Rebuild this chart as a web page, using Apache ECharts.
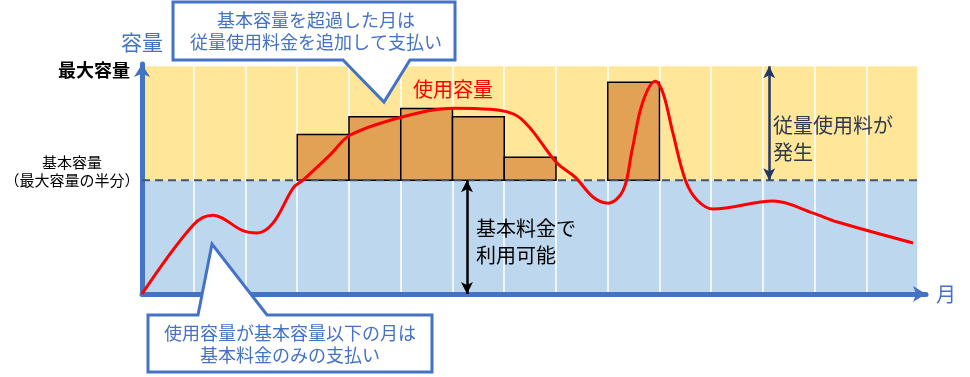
<!DOCTYPE html>
<html><head><meta charset="utf-8">
<script src="https://cdn.jsdelivr.net/npm/echarts@6/dist/echarts.min.js"></script>
<style>html,body{margin:0;padding:0;background:#fff}#c{width:970px;height:377px}</style>
</head><body><div id="c"></div>
<script>
// ---- data ----
var basicCapacity = 50;
var maxCapacity = 100;
var months = 15;
// bars: [month index, usage top] for months exceeding basic capacity
var overMonths = [3, 4, 5, 6, 7, 9];
var overValues = [70, 77.8, 81.5, 77.8, 60, 93];
// usage curve
var usageX = [0, 0.99, 1.37, 1.95, 2.22, 2.53, 2.92, 3.11, 3.63, 4.02, 5.01, 6.01, 6.73, 7.31, 8.02, 8.37, 8.72, 9.01, 9.30, 9.47, 9.67, 9.92, 10.07, 10.26, 10.5, 10.73, 11.04, 12.2, 12.97, 13.44, 14.9];
var usageY = [0, 30.3, 34.6, 27.8, 26.8, 31.1, 46.5, 50, 61, 69.7, 77.6, 81.6, 81.1, 77.2, 57.5, 51.3, 42.5, 39.9, 45.6, 63.2, 83.8, 93.4, 88.2, 70.6, 50, 41.2, 37.3, 40.8, 35.5, 31.6, 22.4];
var yTickValues = [50, 100];
var yTickLabels = ['{a|基本容量}\n{b|（最大容量の半分）}\n{c| }', '{d|最大容量}'];
var overArrowX = 12.12;
var basicArrowX = 6.28;

var FONT = '"Noto Sans CJK JP", "Noto Sans CJK SC", sans-serif';
var chart = echarts.init(document.getElementById('c'));

var barData = overMonths.map(function (m, i) { return [m, overValues[i]]; });
var lineData = usageX.map(function (x, i) { return [x, usageY[i]]; });

var option = {
  animation: false,
  textStyle: { fontFamily: FONT },
  grid: { left: 142, right: 44, top: 64, bottom: 83 },
  xAxis: {
    type: 'value', min: 0, max: 15.15, interval: 1, z: 2,
    name: '月', nameLocation: 'end', nameGap: 10,
    nameTextStyle: { color: '#4472C4', fontSize: 20, fontFamily: FONT, align: 'left', verticalAlign: 'middle', padding: [8, 0, 0, 0] },
    axisLine: { show: true, symbol: ['none', 'arrow'], symbolSize: [12, 13], lineStyle: { color: '#4472C4', width: 5 } },
    axisTick: { show: false },
    axisLabel: { show: false },
    splitLine: { show: true, lineStyle: { color: '#ffffff', width: 1.5 } }
  },
  yAxis: {
    type: 'value', min: 0, max: 101, interval: 50, z: 3,
    name: '容量', nameLocation: 'end', nameGap: 22,
    nameTextStyle: { color: '#4472C4', fontSize: 21, fontFamily: FONT, align: 'center', verticalAlign: 'middle' },
    axisLine: { show: true, symbol: ['none', 'arrow'], symbolSize: [12, 13], lineStyle: { color: '#4472C4', width: 5 } },
    axisTick: { show: false },
    splitLine: { show: false },
    axisLabel: {
      margin: 5,
      formatter: function (v) {
        var i = yTickValues.indexOf(v);
        return i >= 0 ? yTickLabels[i] : '';
      },
      rich: {
        a: { fontSize: 15, color: '#000', width: 130, align: 'center', lineHeight: 18, fontFamily: FONT },
        b: { fontSize: 15, color: '#000', width: 130, align: 'center', lineHeight: 18, fontFamily: FONT },
        c: { fontSize: 15, lineHeight: 18 },
        d: { fontSize: 18, fontWeight: 'bold', color: '#000', padding: [8, 7, 0, 0], fontFamily: FONT }
      }
    }
  },
  series: [
    {
      type: 'custom', name: 'bands', z: 1, silent: true,
      data: [[0, basicCapacity], [basicCapacity, maxCapacity]],
      renderItem: function (params, api) {
        var p0 = api.coord([0, api.value(1)]);
        var p1 = api.coord([months, api.value(0)]);
        return { type: 'rect', shape: { x: p0[0], y: p0[1], width: p1[0] - p0[0], height: p1[1] - p0[1] },
          style: { fill: params.dataIndex === 0 ? '#BDD7EE' : '#FFE699' } };
      }
    },
    {
      type: 'custom', name: 'over', z: 3,
      data: barData,
      renderItem: function (params, api) {
        var p0 = api.coord([api.value(0), api.value(1)]);
        var p1 = api.coord([api.value(0) + 1, basicCapacity]);
        return { type: 'rect', shape: { x: p0[0], y: p0[1], width: p1[0] - p0[0], height: p1[1] - p0[1] },
          style: { fill: '#E2A256', stroke: '#000', lineWidth: 1.5 } };
      }
    },
    {
      type: 'line', name: 'basic', z: 4, symbol: 'none',
      data: [[0, basicCapacity], [months, basicCapacity]],
      lineStyle: { color: '#44546A', width: 2, type: [8, 5] },
      markLine: {
        silent: true, symbol: ['arrow', 'arrow'], symbolSize: [9, 12],
        label: { show: false },
        data: [
          [{ coord: [overArrowX, maxCapacity] }, { coord: [overArrowX, basicCapacity] }],
          [{ coord: [basicArrowX, basicCapacity] }, { coord: [basicArrowX, 0] }]
        ],
        lineStyle: { type: 'solid', width: 2.5 }
      }
    },
    {
      type: 'line', name: '使用容量', z: 5, symbol: 'none', smooth: 0.35,
      data: lineData,
      lineStyle: { color: '#FF0000', width: 3 }
    }
  ],
  graphic: [
    { type: 'polygon', z: 100, shape: { points: [[173, 2], [455, 2], [455, 60], [410, 60], [384, 102], [343, 60], [173, 60]] },
      style: { fill: '#fff', stroke: '#4472C4', lineWidth: 3 } },
    { type: 'text', z: 101, x: 316, y: 31, style: { text: '基本容量を超過した月は\n従量使用料金を追加して支払い', font: '18px ' + FONT, fill: '#4472C4', textAlign: 'center', textVerticalAlign: 'middle', lineHeight: 22 } },
    { type: 'polygon', z: 100, shape: { points: [[148, 315], [198, 315], [212, 244], [267, 315], [432, 315], [432, 372], [148, 372]] },
      style: { fill: '#fff', stroke: '#4472C4', lineWidth: 3 } },
    { type: 'text', z: 101, x: 290, y: 344, style: { text: '使用容量が基本容量以下の月は\n基本料金のみの支払い', font: '18px ' + FONT, fill: '#4472C4', textAlign: 'center', textVerticalAlign: 'middle', lineHeight: 22 } },
    { type: 'text', z: 101, x: 413, y: 79, style: { text: '使用容量', font: '20px ' + FONT, fill: '#FF0000' } },
    { type: 'text', z: 101, x: 773, y: 112, style: { text: '従量使用料が\n発生', font: '20px ' + FONT, fill: '#2E3B4E', lineHeight: 27 } },
    { type: 'text', z: 101, x: 476, y: 215, style: { text: '基本料金で\n利用可能', font: '20px ' + FONT, fill: '#000', lineHeight: 27 } }
  ]
};
chart.setOption(option);
// color the two arrows separately
chart.setOption({ series: [{}, {}, { markLine: { data: [
  [{ coord: [overArrowX, maxCapacity], lineStyle: { color: '#203864' } }, { coord: [overArrowX, basicCapacity] }],
  [{ coord: [basicArrowX, basicCapacity], lineStyle: { color: '#000' } }, { coord: [basicArrowX, 0] }]
] } }, {}] });
</script></body></html>
